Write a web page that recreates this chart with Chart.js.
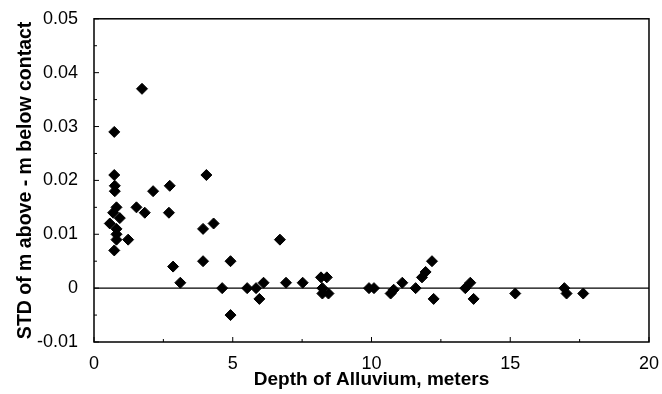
<!DOCTYPE html>
<html>
<head>
<meta charset="utf-8">
<script src="https://cdn.jsdelivr.net/npm/chart.js@4.4.1/dist/chart.umd.min.js"></script>
<style>
  html, body { margin: 0; padding: 0; background: #fff; }
  #wrap { width: 662px; height: 394px; }
</style>
</head>
<body>
<div id="wrap"><canvas id="myChart" width="662" height="394"></canvas></div>
<script>
// datos
const depth = [0.73, 0.73, 0.75, 0.75, 1.73, 2.13, 2.73, 4.05, 0.81, 0.69,
  0.93, 1.53, 1.83, 2.70, 0.57, 0.81, 0.81, 0.81, 1.23, 0.73,
  3.93, 4.31, 6.70, 2.85, 3.93, 4.92, 3.11, 4.62, 4.92, 5.52,
  5.84, 5.96, 6.11, 6.92, 7.52, 8.18, 8.39, 8.23, 8.23, 8.45,
  9.91, 10.09, 10.69, 10.80, 11.11, 11.59, 11.82, 11.95, 12.18, 12.24,
  13.56, 13.38, 13.68, 15.18, 16.95, 17.03, 17.63];
const stdDiff = [0.029, 0.021, 0.019, 0.018, 0.037, 0.018, 0.019, 0.021, 0.015, 0.014,
  0.013, 0.015, 0.014, 0.014, 0.012, 0.011, 0.010, 0.009, 0.009, 0.007,
  0.011, 0.012, 0.009, 0.004, 0.005, 0.005, 0.001, 0.000, -0.005, 0.000,
  0.000, -0.002, 0.001, 0.001, 0.001, 0.002, 0.002, 0.000, -0.001, -0.001,
  0.000, 0.000, -0.001, -0.0003, 0.001, 0.000, 0.002, 0.003, 0.005, -0.002,
  0.001, 0.000, -0.002, -0.001, 0.000, -0.001, -0.001];

const xTickLabels = ["0", "5", "10", "15", "20"];
const yTickLabels = ["-0.01", "0", "0.01", "0.02", "0.03", "0.04", "0.05"];

const fontFam = "'Liberation Sans', Arial, Helvetica, sans-serif";

// marco, linea del cero y marcas hacia dentro
const marco = {
  id: "marco",
  afterDatasetsDraw(chart) {
    const ctx = chart.ctx;
    const a = chart.chartArea;
    const sx = chart.scales.x, sy = chart.scales.y;
    ctx.save();
    ctx.strokeStyle = "#000";
    ctx.lineWidth = 1.5;
    ctx.strokeRect(a.left, a.top, a.right - a.left, a.bottom - a.top);
    const y0 = sy.getPixelForValue(0);
    ctx.lineWidth = 1.2;
    ctx.beginPath();
    ctx.moveTo(a.left, y0);
    ctx.lineTo(a.right, y0);
    ctx.stroke();
    ctx.lineWidth = 1;
    ctx.beginPath();
    for (let v = 0; v <= 20; v += 2.5) {
      const px = sx.getPixelForValue(v);
      const len = (v % 5 === 0) ? 5 : 3;
      ctx.moveTo(px, a.bottom);
      ctx.lineTo(px, a.bottom - len);
    }
    for (let i = -2; i <= 10; i++) {
      const v = i * 0.005;
      const py = sy.getPixelForValue(v);
      const len = (i % 2 === 0) ? 5 : 3;
      ctx.moveTo(a.left, py);
      ctx.lineTo(a.left + len, py);
    }
    ctx.stroke();
    ctx.restore();
  }
};

const puntos = depth.map((d, i) => ({ x: d, y: stdDiff[i] }));

new Chart(document.getElementById("myChart").getContext("2d"), {
  type: "scatter",
  data: {
    datasets: [{
      data: puntos,
      pointStyle: "rectRot",
      pointRadius: 5.5,
      pointBorderWidth: 1,
      backgroundColor: "#000",
      borderColor: "#000"
    }]
  },
  options: {
    responsive: false,
    animation: false,
    layout: { padding: { left: 14, right: 13, top: 16, bottom: 0 } },
    plugins: { legend: { display: false }, tooltip: { enabled: false } },
    scales: {
      x: {
        type: "linear",
        min: 0,
        max: 20,
        afterFit(s) { s.height = 52; },
        afterBuildTicks(s) { s.ticks = xTickLabels.map(t => ({ value: Number(t) })); },
        grid: { display: false },
        border: { display: false },
        ticks: {
          color: "#000",
          padding: 3,
          maxRotation: 0,
          font: { family: fontFam, size: 18 },
          callback: (v) => xTickLabels.find(t => Number(t) === v)
        },
        title: {
          display: true,
          text: "Depth of Alluvium, meters",
          color: "#000",
          padding: { top: 0, bottom: 3 },
          font: { family: fontFam, size: 19, weight: "bold" }
        }
      },
      y: {
        type: "linear",
        min: -0.01,
        max: 0.05,
        afterFit(s) { s.width = 80; },
        afterBuildTicks(s) { s.ticks = yTickLabels.map(t => ({ value: Number(t) })); },
        grid: { display: false },
        border: { display: false },
        ticks: {
          color: "#000",
          padding: 8,
          font: { family: fontFam, size: 18 },
          callback: (v) => yTickLabels.find(t => Math.abs(Number(t) - v) < 1e-9)
        },
        title: {
          display: true,
          text: "STD of m above - m below contact",
          color: "#000",
          padding: { top: 0, bottom: 0 },
          font: { family: fontFam, size: 19.5, weight: "bold" }
        }
      }
    }
  },
  plugins: [marco]
});
</script>
</body>
</html>
